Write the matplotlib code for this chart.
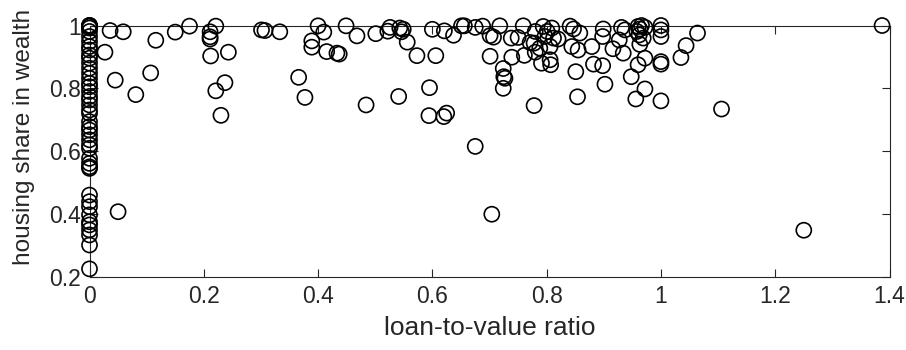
import matplotlib
matplotlib.use("Agg")
import matplotlib.pyplot as plt
from matplotlib.ticker import FixedLocator, FuncFormatter

# households with zero loan-to-value ratio
zero_ltv_share = [0.225, 0.301, 0.333, 0.349, 0.365, 0.375, 0.397, 0.423, 0.439, 0.46,
                  0.545, 0.55, 0.561, 0.577, 0.609, 0.62, 0.636, 0.652, 0.667, 0.678,
                  0.694, 0.72, 0.731, 0.747, 0.763, 0.774, 0.79, 0.805, 0.816, 0.832,
                  0.848, 0.864, 0.88, 0.896, 0.906, 0.922, 0.933, 0.949, 0.965, 0.981,
                  0.992, 1.0, 1.0, 1.0, 0.997]

ltv = [0.027, 0.036, 0.045, 0.050, 0.059, 0.081, 0.107, 0.116, 0.150, 0.175,
       0.211, 0.211, 0.211, 0.212, 0.221, 0.221, 0.230, 0.237, 0.243, 0.301,
       0.307, 0.333, 0.366, 0.377, 0.389, 0.389, 0.400, 0.410, 0.415, 0.433,
       0.437, 0.449, 0.468, 0.484, 0.501, 0.522, 0.526, 0.543, 0.549, 0.546,
       0.541, 0.556, 0.573, 0.595, 0.594, 0.620, 0.625, 0.600, 0.606, 0.621,
       0.637, 0.651, 0.656, 0.675, 0.688, 0.675, 0.701, 0.707, 0.704, 0.701,
       0.718, 0.724, 0.725, 0.727, 0.724, 0.738, 0.750, 0.739, 0.759, 0.761,
       0.771, 0.778, 0.778, 0.780, 0.780, 0.788, 0.791, 0.794, 0.797, 0.801,
       0.806, 0.806, 0.807, 0.809, 0.812, 0.820, 0.841, 0.847, 0.858, 0.844,
       0.855, 0.851, 0.854, 0.879, 0.882, 0.898, 0.902, 0.899, 0.898, 0.916,
       0.931, 0.927, 0.934, 0.937, 0.948, 0.956, 0.972, 0.960, 0.972, 0.963,
       0.969, 0.960, 0.963, 0.958, 0.966, 0.962, 0.972, 1.000, 1.000, 1.000,
       1.000, 1.000, 1.000, 1.035, 1.044, 1.064, 1.106, 1.250, 1.387]
share = [0.915, 0.984, 0.826, 0.407, 0.980, 0.780, 0.849, 0.953, 0.979, 0.998,
         0.980, 0.964, 0.957, 0.903, 0.998, 0.792, 0.714, 0.818, 0.915, 0.986,
         0.984, 0.980, 0.835, 0.771, 0.951, 0.931, 0.999, 0.979, 0.917, 0.912,
         0.909, 0.999, 0.967, 0.747, 0.974, 0.982, 0.994, 0.992, 0.988, 0.980,
         0.774, 0.947, 0.904, 0.802, 0.713, 0.710, 0.721, 0.988, 0.904, 0.983,
         0.969, 0.999, 0.999, 0.994, 0.998, 0.615, 0.968, 0.963, 0.399, 0.902,
         0.999, 0.863, 0.837, 0.832, 0.800, 0.960, 0.962, 0.899, 0.999, 0.905,
         0.946, 0.944, 0.745, 0.981, 0.915, 0.928, 0.880, 0.997, 0.965, 0.981,
         0.933, 0.891, 0.875, 0.992, 0.960, 0.957, 0.998, 0.989, 0.976, 0.933,
         0.922, 0.853, 0.773, 0.933, 0.877, 0.872, 0.813, 0.989, 0.965, 0.926,
         0.994, 0.954, 0.912, 0.986, 0.837, 0.766, 0.798, 0.875, 0.896, 0.940,
         0.960, 0.997, 0.989, 0.981, 1.000, 0.970, 0.994, 1.000, 0.986, 0.965,
         0.885, 0.877, 0.760, 0.898, 0.936, 0.976, 0.734, 0.348, 1.000]

x_ticks = [0, 0.2, 0.4, 0.6, 0.8, 1.0, 1.2, 1.4]
y_ticks = [0.2, 0.4, 0.6, 0.8, 1.0]

plt.rcParams['font.family'] = ['Liberation Sans', 'DejaVu Sans']
fig = plt.figure(figsize=(9.06, 3.5), dpi=100)
ax = fig.add_axes([0.0988, 0.2094, 0.883, 0.7177])

all_x = [0.0] * len(zero_ltv_share) + ltv
all_y = zero_ltv_share + share
ax.scatter(all_x, all_y, s=118, facecolors='none', edgecolors='black',
           linewidths=1.2, clip_on=False, zorder=3)

ax.set_xlim(0, 1.4)
ax.set_ylim(0.2, 1.0)
ax.xaxis.set_major_locator(FixedLocator(x_ticks))
ax.yaxis.set_major_locator(FixedLocator(y_ticks))
fmt = FuncFormatter(lambda v, p: f"{v:g}")
ax.xaxis.set_major_formatter(fmt)
ax.yaxis.set_major_formatter(fmt)

axc = '#262626'
for sp in ax.spines.values():
    sp.set_color(axc)
    sp.set_linewidth(0.8)
ax.tick_params(direction='in', length=5.5, width=0.8, colors=axc,
               labelsize=16.5, top=True, right=True, pad=6)
ax.set_xlabel('loan-to-value ratio', fontsize=19, color=axc, labelpad=6)
ax.set_ylabel('housing share in wealth', fontsize=17.6, color=axc)
ax.yaxis.set_label_coords(-0.068, 0.555)

fig.savefig('out.png', dpi=100)
